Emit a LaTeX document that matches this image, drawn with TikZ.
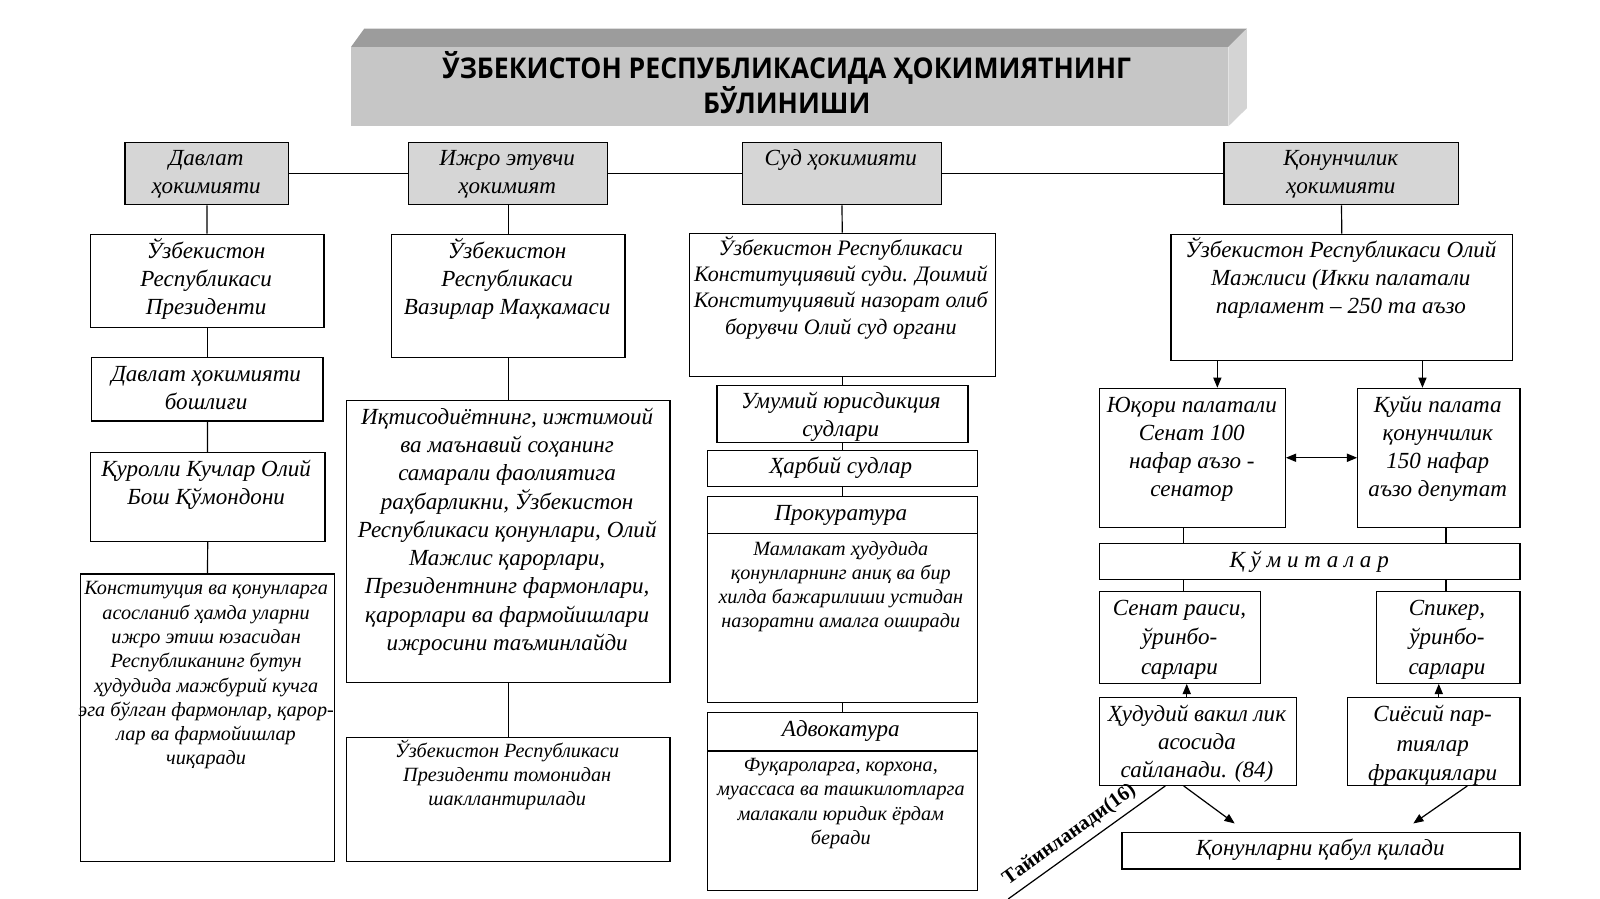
\documentclass[tikz,border=0pt]{standalone}
\usepackage{fontspec}
\setmainfont{Liberation Serif}
\newfontfamily\titlefont{Open Sans}[FakeStretch=0.93]
\usetikzlibrary{arrows.meta,positioning}

\definecolor{headgray}{HTML}{D6D6D6}
\definecolor{slabfront}{HTML}{C6C6C6}
\definecolor{slabtop}{HTML}{9C9C9C}
\definecolor{slabside}{HTML}{D4D4D4}

\newcommand\fmain{\fontsize{11.3}{13.8}\selectfont\itshape}
\newcommand\fwide{\fontsize{11.3}{14.5}\selectfont\itshape}
\newcommand\fsmall{\fontsize{9.9}{11.9}\selectfont\itshape}
% lines stacked from the first baseline down
\newcommand\lines[1]{\begin{tabular}[t]{@{}c@{}}#1\end{tabular}}

\begin{document}
\begin{tikzpicture}[
    x=0.5pt, y=-0.5pt,
    frame/.style n args={4}{
        anchor=north west,
        inner sep=0pt,
        at={(#1,#2)},
        minimum width={(#3-#1)*0.5pt},
        minimum height={(#4-#2)*0.5pt}
    },
    box/.style n args={4}{frame={#1}{#2}{#3}{#4}, draw, line width=0.6pt},
    head/.style n args={4}{box={#1}{#2}{#3}{#4}, fill=headgray},
    txt/.style={anchor=base, inner sep=0pt, font=\fmain},
    stxt/.style={txt, font=\fsmall},
    link/.style={line width=0.6pt},
    arr/.style={link, -{Triangle[length=5pt,width=4pt]}},
    arrs/.style={link, {Triangle[length=5pt,width=4pt]}-{Triangle[length=5pt,width=4pt]}}
]
\useasboundingbox (0,0) rectangle (1568,881);

% TITLE
\node[frame={344}{46}{1203}{123}, fill=slabfront] (title) {};
\fill[slabtop] (title.north west) -- (357,28) -- (1222,28) -- (title.north east) -- cycle;
\fill[slabside] (title.north east) -- (1222,28) -- (1222,106) -- (title.south east) -- cycle;
\node[anchor=base, inner sep=0pt, align=center,
      font=\titlefont\bfseries\fontsize{14}{15.5}\selectfont] (title-t) at (771,111)
    {ЎЗБЕКИСТОН РЕСПУБЛИКАСИДА ҲОКИМИЯТНИНГ\\БЎЛИНИШИ};

% ROW 1
\node[head={122}{139}{282}{200}] (dav) {};
\node[head={400}{139}{595}{200}] (ijro) {};
\node[head={727}{139}{922}{200}] (sud) {};
\node[head={1199}{139}{1429}{200}] (qon) {};
\node[txt] (dav-t) at (202,162) {\lines{Давлат\\ҳокимияти}};
\node[txt] (ijro-t) at (497,162) {\lines{Ижро этувчи\\ҳокимият}};
\node[txt] (sud-t) at (824,162) {Суд ҳокимияти};
\node[txt] (qon-t) at (1314,162) {\lines{Қонунчилик\\ҳокимияти}};

% COLUMN 1
\node[box={88}{229}{317}{320}] (pres) {};
\node[box={89}{350}{316}{412}] (bosh) {};
\node[box={88}{443}{318}{530}] (qur) {};
\node[box={78}{562}{327}{844}] (kons) {};
\node[txt] (pres-t) at (202,253) {\lines{Ўзбекистон\\Республикаси\\Президенти}};
\node[txt] (bosh-t) at (202,374) {\lines{Давлат ҳокимияти\\бошлиғи}};
\node[txt] (qur-t) at (202,467) {\lines{Қуролли Кучлар Олий\\Бош Қўмондони}};
\node[stxt] (kons-t) at (202,583) {\lines{Конституция ва қонунларга\\асосланиб ҳамда уларни\\ижро этиш юзасидан\\Республиканинг бутун\\ҳудудида мажбурий кучга\\эга бўлган фармонлар, қарор-\\лар ва фармойишлар\\чиқаради}};

% COLUMN 2
\node[box={383}{229}{612}{350}] (vaz) {};
\node[box={339}{392}{656}{668}] (iqt) {};
\node[box={339}{722}{656}{844}] (shakl) {};
\node[txt] (vaz-t) at (497,253) {\lines{Ўзбекистон\\Республикаси\\Вазирлар Маҳкамаси}};
\node[txt] (iqt-t) at (497,416) {\lines{Иқтисодиётнинг, ижтимоий\\ва маънавий соҳанинг\\самарали фаолиятига\\раҳбарликни, Ўзбекистон\\Республикаси қонунлари, Олий\\Мажлис қарорлари,\\Президентнинг фармонлари,\\қарорлари ва фармойишлари\\ижросини таъминлайди}};
\node[stxt] (shakl-t) at (497,742) {\lines{Ўзбекистон Республикаси\\Президенти томонидан\\шакллантирилади}};

% COLUMN 3
\node[box={675}{228}{975}{368}] (konsud) {};
\node[box={702}{377}{948}{433}] (umum) {};
\node[box={693}{441}{957}{476}] (harb) {};
\node[box={693}{486}{957}{688}] (prok) {};
\node[box={693}{698}{957}{872}] (advo) {};
\draw[link] (prok.west |- 0,523) -- (prok.east |- 0,523);
\draw[link] (advo.west |- 0,736) -- (advo.east |- 0,736);
\node[txt, font=\fontsize{10.8}{12.9}\selectfont\itshape] (konsud-t) at (824,250) {\lines{Ўзбекистон Республикаси\\Конституциявий суди. Доимий\\Конституциявий назорат олиб\\борувчи Олий суд органи}};
\node[txt] (umum-t) at (824,400) {\lines{Умумий юрисдикция\\судлари}};
\node[txt] (harb-t) at (824,464) {Ҳарбий судлар};
\node[txt] (prok-h) at (824,510) {Прокуратура};
\node[stxt] (prok-t) at (824,544) {\lines{Мамлакат ҳудудида\\қонунларнинг аниқ ва бир\\хилда бажарилиши устидан\\назоратни амалга оширади}};
\node[txt] (advo-h) at (824,722) {Адвокатура};
\node[stxt] (advo-t) at (824,756) {\lines{Фуқароларга, корхона,\\муассаса ва ташкилотларга\\малакали юридик ёрдам\\беради}};

% COLUMN 4
\node[box={1147}{229}{1482}{353}] (majlis) {};
\node[box={1077}{380}{1259}{516}] (yuq) {};
\node[box={1330}{380}{1489}{516}] (quyi) {};
\node[box={1077}{532}{1489}{567}] (qum) {};
\node[box={1077}{579}{1235}{669}] (senrais) {};
\node[box={1348}{579}{1489}{669}] (spik) {};
\node[box={1077}{683}{1270}{769}] (hud) {};
\node[box={1320}{683}{1489}{769}] (siyos) {};
\node[box={1099}{815}{1489}{851}] (qabul) {};
\node[txt] (majlis-t) at (1314,252) {\lines{Ўзбекистон Республикаси Олий\\Мажлиси (Икки палатали\\парламент – 250 та аъзо}};
\node[txt] (yuq-t) at (1168,404) {\lines{Юқори палатали\\Сенат 100\\нафар аъзо -\\сенатор}};
\node[txt] (quyi-t) at (1409,404) {\lines{Қуйи палата\\қонунчилик\\150 нафар\\аъзо депутат}};
\node[txt] (qum-t) at (1283,556) {Қ ў м и т а л а р};
\node[txt, font=\fwide] (senrais-t) at (1156,603) {\lines{Сенат раиси,\\ўринбо-\\сарлари}};
\node[txt, font=\fwide] (spik-t) at (1418,603) {\lines{Спикер,\\ўринбо-\\сарлари}};
\node[txt] (hud-t) at (1173,707) {\lines{Ҳудудий вакил лик\\асосида\\сайланади. (84)}};
\node[txt, font=\fwide] (siyos-t) at (1404,707) {\lines{Сиёсий пар-\\тиялар\\фракциялари}};
\node[txt] (qabul-t) at (1294,838) {Қонунларни қабул қилади};

% --- LINKS ---
% Top row
\draw[link] (dav) -- (ijro);
\draw[link] (ijro) -- (sud);
\draw[link] (sud) -- (qon);

% Column 1
\draw[link] (dav) -- (pres);
\draw[link] (pres) -- (bosh);
\draw[link] (bosh) -- (qur);
\draw[link] (qur) -- (kons);

% Column 2
\draw[link] (ijro) -- (vaz);
\draw[link] (vaz) -- (iqt);
\draw[link] (iqt) -- (shakl);

% Column 3
\draw[link] (sud) -- (konsud);
\draw[link] (konsud) -- (umum);
\draw[link] (umum) -- (harb);
\draw[link] (harb) -- (prok);
\draw[link] (prok) -- (advo);

% Column 4
\draw[link] (qon) -- (majlis);
\draw[arr] (1193,0 |- majlis.south) -- (1193,0 |- yuq.north);
\draw[arr] (1394,0 |- majlis.south) -- (1394,0 |- quyi.north);
\draw[arrs] (yuq) -- (quyi);
\draw[link] (1160,0 |- yuq.south) -- (1160,0 |- qum.north);
\draw[link] (1417,0 |- quyi.south) -- (1417,0 |- qum.north);
\draw[link] (1160,0 |- qum.south) -- (1160,0 |- senrais.north);
\draw[link] (1417,0 |- qum.south) -- (1417,0 |- spik.north);
\draw[arr] (1163,0 |- hud.north) -- (1163,0 |- senrais.south);
\draw[arr] (1410,0 |- siyos.north) -- (1410,0 |- spik.south);

% To the laws box
\coordinate (law-l) at (1210,807);
\coordinate (law-r) at (1385,807);
\coordinate (tay-end) at (988,881);
\draw[arr] (1160,0 |- hud.south) -- (law-l);
\draw[arr] (1438,0 |- siyos.south) -- (law-r);
\draw[link] (1142,0 |- hud.south) -- node[sloped, above, pos=0.55, inner sep=3pt,
    font=\bfseries\fontsize{10}{12}\selectfont] (tay) {Тайинланади(16)} (tay-end);

\end{tikzpicture}
\end{document}
